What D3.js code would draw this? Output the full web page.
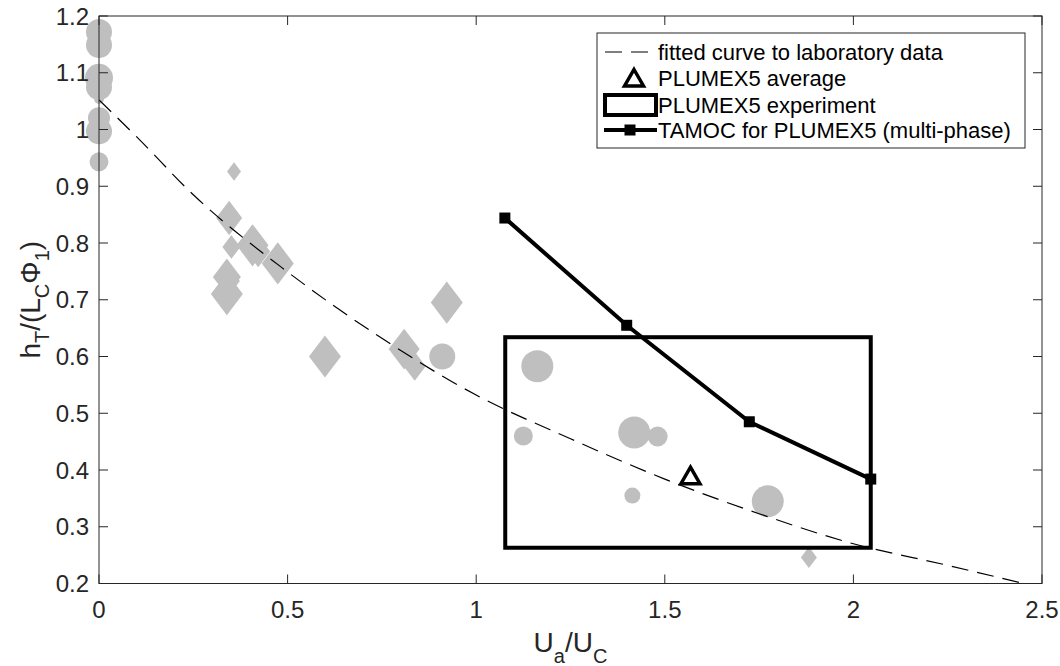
<!DOCTYPE html>
<html><head><meta charset="utf-8">
<script src="https://cdn.jsdelivr.net/npm/d3@7"></script>
<style>body{margin:0;background:#fff}svg{display:block}</style>
</head><body><svg id="c" width="1060" height="666"></svg>
<script>
// ---------------- data ----------------
const xTicks = [0, 0.5, 1, 1.5, 2, 2.5];
const xTickLabels = ["0", "0.5", "1", "1.5", "2", "2.5"];
const yTicks = [0.2, 0.3, 0.4, 0.5, 0.6, 0.7, 0.8, 0.9, 1.0, 1.1, 1.2];
const yTickLabels = ["0.2", "0.3", "0.4", "0.5", "0.6", "0.7", "0.8", "0.9", "1", "1.1", "1.2"];

// laboratory data: circles (x, y, marker size)
const labCircleX = [0, 0, 0, 0, 0, 0, 0, 0, 0.910, 1.162, 1.125, 1.419, 1.481, 1.414, 1.773];
const labCircleY = [1.172, 1.149, 1.091, 1.075, 1.054, 1.020, 0.997, 0.943, 0.600, 0.583, 0.460, 0.466, 0.459, 0.355, 0.345];
const labCircleS = [26, 26, 28, 26, 10, 22, 26, 19, 26, 32, 19, 32, 20, 16, 32];

// laboratory data: diamonds (x, y, marker size)
const labDiamondX = [0.358, 0.345, 0.351, 0.407, 0.422, 0.474, 0.339, 0.347, 0.339, 0.599, 0.922, 0.809, 0.837, 1.882];
const labDiamondY = [0.926, 0.844, 0.793, 0.796, 0.785, 0.764, 0.740, 0.733, 0.710, 0.600, 0.695, 0.613, 0.583, 0.246];
const labDiamondS = [14, 26, 18, 32, 24, 32, 28, 20, 32, 32, 32, 31, 22, 16];

// fitted curve to laboratory data
const fitX = [0, 0.1, 0.25, 0.5, 0.75, 1.0, 1.25, 1.5, 1.75, 2.0, 2.25, 2.5];
const fitY = [1.052, 0.987, 0.885, 0.749, 0.632, 0.532, 0.455, 0.384, 0.323, 0.270, 0.232, 0.192];

// PLUMEX5 average
const avgX = [1.568];
const avgY = [0.390];

// PLUMEX5 experiment range
const expX = [1.077, 2.046];
const expY = [0.263, 0.634];

// TAMOC for PLUMEX5 (multi-phase)
const tamocX = [1.076, 1.399, 1.724, 2.046];
const tamocY = [0.844, 0.655, 0.485, 0.384];

const legendLabels = ["fitted curve to laboratory data", "PLUMEX5 average", "PLUMEX5 experiment", "TAMOC for PLUMEX5 (multi-phase)"];

// ---------------- drawing ----------------
const svg = d3.select("#c");
const L = 99, R = 1042, T = 16, B = 583.5;
const x = d3.scaleLinear().domain([0, 2.5]).range([L, R]);
const y = d3.scaleLinear().domain([0.2, 1.2]).range([B, T]);
const sz = d3.scaleLinear().domain([0, 10]).range([0, 5]); // marker size -> half size px
const axisColor = "#262626";
const gray = "#bfbfbf";
const font = "'Liberation Sans', Arial, Helvetica, sans-serif";

svg.append("rect").attr("width", 1060).attr("height", 666).attr("fill", "#fff");

svg.append("defs").append("clipPath").attr("id", "clip")
  .append("rect").attr("x", L).attr("y", T).attr("width", R - L).attr("height", B - T);

const plot = svg.append("g");

// circles
const circ = labCircleX.map((d, i) => ({x: d, y: labCircleY[i], s: labCircleS[i]}));
plot.selectAll("circle.lab").data(circ).join("circle")
  .attr("class", "lab")
  .attr("cx", d => x(d.x)).attr("cy", d => y(d.y)).attr("r", d => sz(d.s))
  .attr("fill", gray);

// diamonds
const diam = labDiamondX.map((d, i) => ({x: d, y: labDiamondY[i], s: labDiamondS[i]}));
plot.selectAll("path.dia").data(diam).join("path")
  .attr("class", "dia")
  .attr("d", d => {
    const w = sz(d.s), h = w * 1.32, cx = x(d.x), cy = y(d.y);
    return `M${cx},${cy - h}L${cx + w},${cy}L${cx},${cy + h}L${cx - w},${cy}Z`;
  })
  .attr("fill", gray);

// fitted curve
const fit = fitX.map((d, i) => [d, fitY[i]]);
plot.append("path").datum(fit)
  .attr("clip-path", "url(#clip)")
  .attr("d", d3.line().x(d => x(d[0])).y(d => y(d[1])).curve(d3.curveMonotoneX))
  .attr("fill", "none").attr("stroke", "#000").attr("stroke-width", 1.2)
  .attr("stroke-dasharray", "17,9");

// experiment box
plot.append("rect")
  .attr("x", x(expX[0])).attr("y", y(expY[1]))
  .attr("width", x(expX[1]) - x(expX[0])).attr("height", y(expY[0]) - y(expY[1]))
  .attr("fill", "none").attr("stroke", "#000").attr("stroke-width", 4);

// average triangle
const tri = (cx, cy) => `M${cx},${cy - 8.5}L${cx + 9.5},${cy + 8}L${cx - 9.5},${cy + 8}Z`;
plot.selectAll("path.avg").data(avgX.map((d, i) => [d, avgY[i]])).join("path")
  .attr("class", "avg")
  .attr("d", d => tri(x(d[0]), y(d[1])))
  .attr("fill", "none").attr("stroke", "#000").attr("stroke-width", 3.5).attr("stroke-linejoin", "miter");

// TAMOC line
const tam = tamocX.map((d, i) => [d, tamocY[i]]);
plot.append("path").datum(tam)
  .attr("d", d3.line().x(d => x(d[0])).y(d => y(d[1])))
  .attr("fill", "none").attr("stroke", "#000").attr("stroke-width", 4);
plot.selectAll("rect.tm").data(tam).join("rect")
  .attr("class", "tm")
  .attr("x", d => x(d[0]) - 5.5).attr("y", d => y(d[1]) - 5.5)
  .attr("width", 11).attr("height", 11).attr("fill", "#000");

// axes box
const ax = svg.append("g").attr("stroke", axisColor).attr("stroke-width", 1).attr("fill", "none");
ax.append("rect").attr("x", L).attr("y", T).attr("width", R - L).attr("height", B - T);
const tl = 9;
xTicks.forEach(t => {
  ax.append("line").attr("x1", x(t)).attr("x2", x(t)).attr("y1", B).attr("y2", B - tl);
  ax.append("line").attr("x1", x(t)).attr("x2", x(t)).attr("y1", T).attr("y2", T + tl);
});
yTicks.forEach(t => {
  ax.append("line").attr("x1", L).attr("x2", L + tl).attr("y1", y(t)).attr("y2", y(t));
  ax.append("line").attr("x1", R).attr("x2", R - tl).attr("y1", y(t)).attr("y2", y(t));
});

// tick labels
const tickFs = 24;
svg.append("g").selectAll("text").data(xTicks).join("text")
  .attr("x", d => x(d)).attr("y", B + 34)
  .attr("text-anchor", "middle").attr("font-family", font).attr("font-size", tickFs)
  .attr("fill", axisColor).text((d, i) => xTickLabels[i]);
svg.append("g").selectAll("text").data(yTicks).join("text")
  .attr("x", L - 10).attr("y", d => y(d) + 8.5)
  .attr("text-anchor", "end").attr("font-family", font).attr("font-size", tickFs)
  .attr("fill", axisColor).text((d, i) => yTickLabels[i]);

// axis labels
const xl = svg.append("text").attr("x", (L + R) / 2).attr("y", 651.5)
  .attr("text-anchor", "middle").attr("font-family", font).attr("font-size", 28).attr("fill", axisColor);
xl.append("tspan").text("U");
xl.append("tspan").attr("font-size", 20).attr("dy", 11).text("a");
xl.append("tspan").attr("dy", -11).text("/U");
xl.append("tspan").attr("font-size", 20).attr("dy", 11).text("C");

const yl = svg.append("text").attr("transform", `translate(40,${(T + B) / 2}) rotate(-90)`)
  .attr("text-anchor", "middle").attr("font-family", font).attr("font-size", 28).attr("fill", axisColor);
yl.append("tspan").text("h");
yl.append("tspan").attr("font-size", 20).attr("dy", 9).text("T");
yl.append("tspan").attr("dy", -9).text("/(L");
yl.append("tspan").attr("font-size", 20).attr("dy", 9).text("C");
yl.append("tspan").attr("dy", -9).text("\u03A6");
yl.append("tspan").attr("font-size", 20).attr("dy", 9).text("1");
yl.append("tspan").attr("dy", -9).text(")");

// legend
const lg = svg.append("g");
lg.append("rect").attr("x", 597).attr("y", 33).attr("width", 428).attr("height", 115)
  .attr("fill", "#fff").attr("stroke", axisColor).attr("stroke-width", 1);
const rows = [52, 78, 105, 130];
lg.append("line").attr("x1", 605).attr("x2", 648).attr("y1", rows[0]).attr("y2", rows[0])
  .attr("stroke", "#000").attr("stroke-width", 1.2).attr("stroke-dasharray", "17,9");
lg.append("path").attr("d", tri(634, rows[1]))
  .attr("fill", "none").attr("stroke", "#000").attr("stroke-width", 3.5);
lg.append("rect").attr("x", 605).attr("y", rows[2] - 10).attr("width", 51).attr("height", 20)
  .attr("fill", "none").attr("stroke", "#000").attr("stroke-width", 4);
lg.append("line").attr("x1", 604).attr("x2", 657).attr("y1", rows[3]).attr("y2", rows[3])
  .attr("stroke", "#000").attr("stroke-width", 4);
lg.append("rect").attr("x", 630 - 5.5).attr("y", rows[3] - 5.5).attr("width", 11).attr("height", 11).attr("fill", "#000");
lg.selectAll("text").data(legendLabels).join("text")
  .attr("x", 658).attr("y", (d, i) => rows[i] + 8)
  .attr("font-family", font).attr("font-size", 22).attr("fill", "#000").text(d => d);
</script>
</body></html>
